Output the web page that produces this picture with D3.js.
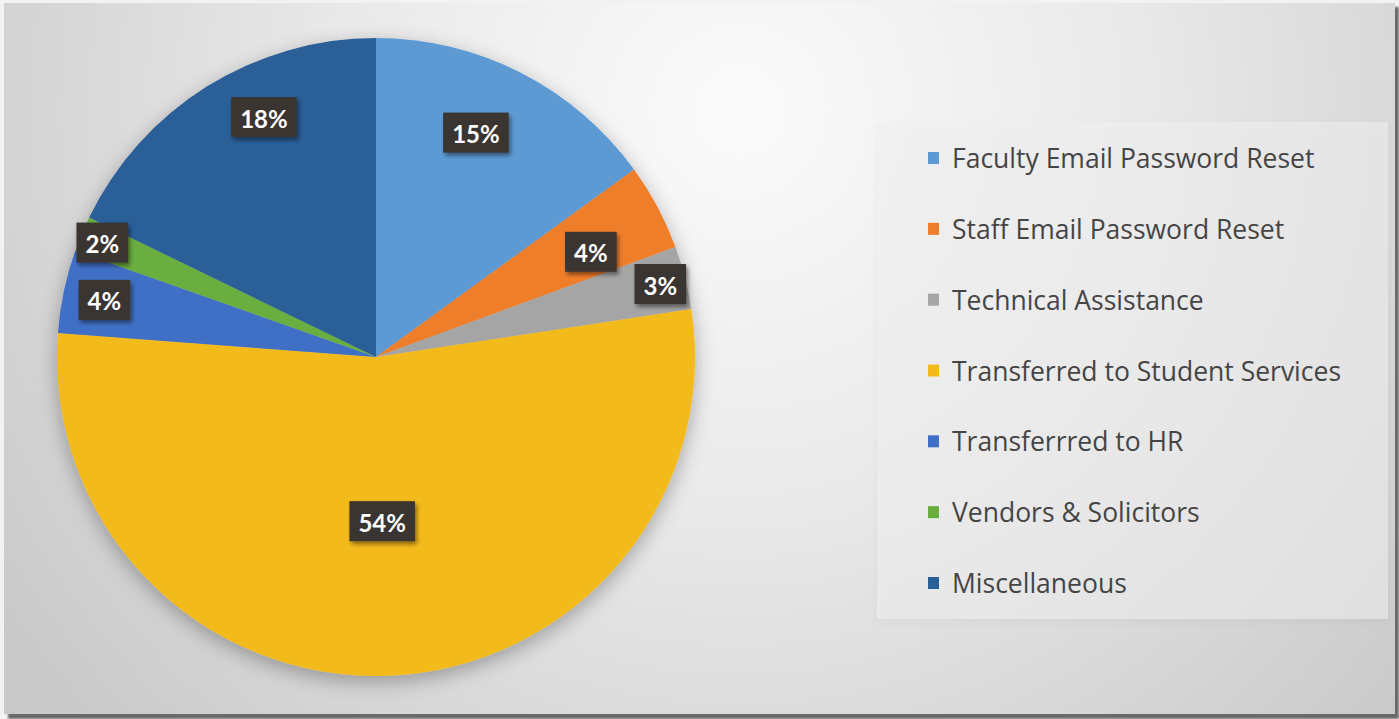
<!DOCTYPE html>
<html>
<head>
<meta charset="utf-8">
<script src="https://cdn.jsdelivr.net/npm/d3@7"></script>
<style>
  html, body { margin: 0; padding: 0; background: #f2f2f2; }
  svg { display: block; }
</style>
</head>
<body>
<div id="pie"></div>
<script>
// chart data
const categories = [
    'Faculty Email Password Reset',
    'Staff Email Password Reset',
    'Technical Assistance',
    'Transferred to Student Services',
    'Transferrred to HR',
    'Vendors & Solicitors',
    'Miscellaneous'
]
const shares = [15.0, 4.4, 3.2, 53.6, 4.2, 1.8, 17.8]
const labels = ['15%', '4%', '3%', '54%', '4%', '2%', '18%']

// colours and label placement (fraction of pie radius, angle nudge in degrees), per slice
const colors = ['#5d9ad4', '#ef7e2c', '#a5a5a5', '#f3ba1d', '#3f6fc6', '#6aae3f', '#2a5f98']
const labelRadius = [0.77, 0.75, 0.92, 0.515, 0.87, 0.93, 0.83]
const labelNudge = [-3, 2, 0, 0, 0, 0, 7]

const width = 1399, height = 719;
const cx = 376, cy = 357, radius = 319;

const svg = d3.select("#pie")
    .append("svg")
    .attr("width", width)
    .attr("height", height)
    .attr("viewBox", [0, 0, width, height]);

const defs = svg.append("defs");

/* background gradient of the panel */
const bg = defs.append("radialGradient")
    .attr("id", "bg")
    .attr("gradientUnits", "userSpaceOnUse")
    .attr("cx", 740).attr("cy", 110).attr("r", 900);
bg.append("stop").attr("offset", "0%").attr("stop-color", "#fbfbfb");
bg.append("stop").attr("offset", "45%").attr("stop-color", "#e9e9e9");
bg.append("stop").attr("offset", "100%").attr("stop-color", "#c9c9c9");

const panelShadow = defs.append("filter").attr("id", "panelShadow")
    .attr("x", "-5%").attr("y", "-5%").attr("width", "110%").attr("height", "110%");
panelShadow.append("feGaussianBlur").attr("stdDeviation", 1.2);

const pieShadow = defs.append("filter").attr("id", "pieShadow")
    .attr("x", "-20%").attr("y", "-20%").attr("width", "140%").attr("height", "140%");
pieShadow.append("feDropShadow")
    .attr("dx", 0).attr("dy", 6).attr("stdDeviation", 10)
    .attr("flood-color", "#000").attr("flood-opacity", 0.3);

const boxShadow = defs.append("filter").attr("id", "boxShadow")
    .attr("x", "-30%").attr("y", "-30%").attr("width", "160%").attr("height", "170%");
boxShadow.append("feDropShadow")
    .attr("dx", 2).attr("dy", 3).attr("stdDeviation", 2)
    .attr("flood-color", "#000").attr("flood-opacity", 0.45);

const legendShadow = defs.append("filter").attr("id", "legendShadow")
    .attr("x", "-10%").attr("y", "-10%").attr("width", "120%").attr("height", "120%");
legendShadow.append("feDropShadow")
    .attr("dx", 0).attr("dy", 3).attr("stdDeviation", 4)
    .attr("flood-color", "#000").attr("flood-opacity", 0.07);

/* panel with dark shadow on the right and bottom */
svg.append("rect")
    .attr("x", 8).attr("y", 7).attr("width", 1391).attr("height", 712)
    .attr("fill", "#6b6b6d")
    .attr("filter", "url(#panelShadow)");
svg.append("rect")
    .attr("x", 4).attr("y", 3).attr("width", 1391).attr("height", 711)
    .attr("fill", "url(#bg)");

/* pie slices */
const pie = d3.pie().sort(null).value(d => d);
const arcs = pie(shares);
const arc = d3.arc().innerRadius(0).outerRadius(radius);

const g = svg.append("g").attr("transform", `translate(${cx},${cy})`);

g.append("g")
    .attr("class", "slices")
    .attr("filter", "url(#pieShadow)")
    .selectAll("path")
    .data(arcs)
    .join("path")
    .attr("d", arc)
    .attr("fill", (d, i) => colors[i]);

/* data labels: dark boxes with white text */
const lab = g.append("g")
    .attr("class", "labels")
    .selectAll("g")
    .data(arcs)
    .join("g")
    .attr("transform", (d, i) => {
        const r = radius * labelRadius[i];
        const a = (d.startAngle + d.endAngle) / 2 + labelNudge[i] * Math.PI / 180;
        return `translate(${r * Math.sin(a)},${-r * Math.cos(a)})`;
    });

lab.append("rect").attr("class", "box");
lab.append("text")
    .attr("text-anchor", "middle")
    .attr("dominant-baseline", "central")
    .attr("dy", 1)
    .style("font-family", "Lato, 'Open Sans', sans-serif")
    .style("font-weight", "bold")
    .style("font-size", "24px")
    .attr("fill", "#ffffff")
    .text((d, i) => labels[i]);

lab.each(function() {
    const node = d3.select(this);
    const bb = node.select("text").node().getBBox();
    node.select("rect.box")
        .attr("x", -bb.width / 2 - 9)
        .attr("y", -20)
        .attr("width", bb.width + 18)
        .attr("height", 40)
        .attr("fill", "#3a3431")
        .attr("filter", "url(#boxShadow)");
});

/* legend */
svg.append("rect")
    .attr("x", 877).attr("y", 122).attr("width", 511).attr("height", 497)
    .attr("fill", "#f1f1f1")
    .attr("fill-opacity", 0.55)
    .attr("filter", "url(#legendShadow)");

const yLegend = d3.scalePoint()
    .domain(categories)
    .range([158, 583]);

const item = svg.append("g")
    .attr("class", "legend")
    .selectAll("g")
    .data(categories)
    .join("g")
    .attr("transform", d => `translate(928,${yLegend(d)})`);

item.append("rect")
    .attr("x", 0).attr("y", -6)
    .attr("width", 11).attr("height", 12)
    .attr("fill", (d, i) => colors[i]);

item.append("text")
    .attr("x", 24)
    .attr("dominant-baseline", "central")
    .style("font-family", "'Open Sans', sans-serif")
    .style("font-size", "26.5px")
    .attr("fill", "#454545")
    .text(d => d);
</script>
</body>
</html>
